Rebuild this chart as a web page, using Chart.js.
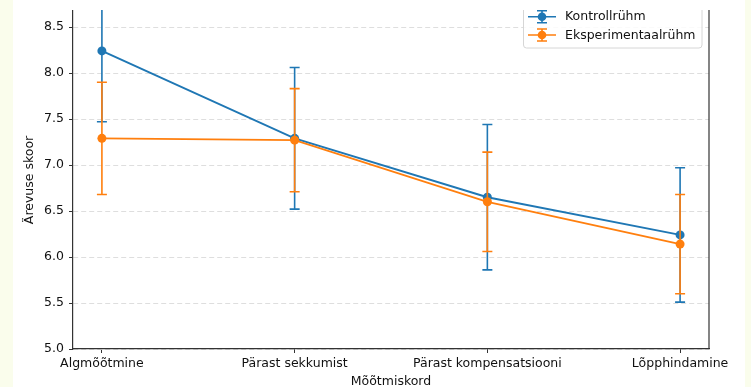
<!DOCTYPE html>
<html>
<head>
<meta charset="utf-8">
<script src="https://cdn.jsdelivr.net/npm/chart.js@4.4.0/dist/chart.umd.min.js"></script>
<style>
  html, body { margin: 0; padding: 0; background: #fafdec; }
  canvas { display: block; }
</style>
</head>
<body>
<canvas id="c" width="751" height="387"></canvas>
<script>
// Measurement points along the x axis
const categories = ['Algmõõtmine', 'Pärast sekkumist', 'Pärast kompensatsiooni', 'Lõpphindamine'];

// Mean anxiety scores and their error half-widths per group
const controlMean = [8.24, 7.29, 6.65, 6.24];
const controlErr  = [0.77, 0.77, 0.79, 0.73];
const expMean     = [7.29, 7.27, 6.60, 6.14];
const expErr      = [0.61, 0.56, 0.54, 0.54];

// Axis tick values
const yTicks = [5.0, 5.5, 6.0, 6.5, 7.0, 7.5, 8.0, 8.5];
const xTicks = [0, 1, 2, 3];

const BLUE = '#1f77b4';
const ORANGE = '#ff7f0e';
const TEXT = '#111111';
const SPINE = '#333333';

Chart.defaults.font.family = "'DejaVu Sans', sans-serif";
Chart.defaults.font.size = 12.5;
Chart.defaults.color = TEXT;

function toPoints(values) {
  return values.map((v, i) => ({ x: i, y: v }));
}

// Page background, error bars, right spine and legend
const figurePlugin = {
  id: 'figurePlugin',
  beforeDraw(chart) {
    const { ctx, width, height } = chart;
    ctx.save();
    ctx.fillStyle = '#fafdec';
    ctx.fillRect(0, 0, width, height);
    ctx.fillStyle = '#ffffff';
    ctx.fillRect(13, 0, 732, height);
    ctx.restore();
  },
  beforeDatasetDraw(chart, args) {
    const ds = chart.data.datasets[args.index];
    const xs = chart.scales.x, ys = chart.scales.y;
    const area = chart.chartArea;
    const ctx = chart.ctx;
    ctx.save();
    ctx.beginPath();
    ctx.rect(area.left, area.top - 1, area.right - area.left, area.bottom - area.top + 1);
    ctx.clip();
    ctx.strokeStyle = ds.borderColor;
    ctx.lineWidth = 1.6;
    const cap = 5;
    ds.data.forEach((p, i) => {
      const e = ds.errors[i];
      const px = xs.getPixelForValue(p.x);
      const top = ys.getPixelForValue(p.y + e);
      const bot = ys.getPixelForValue(p.y - e);
      ctx.beginPath();
      ctx.moveTo(px, top); ctx.lineTo(px, bot);
      ctx.moveTo(px - cap, top); ctx.lineTo(px + cap, top);
      ctx.moveTo(px - cap, bot); ctx.lineTo(px + cap, bot);
      ctx.stroke();
    });
    ctx.restore();
  },
  afterDatasetsDraw(chart) {
    const ctx = chart.ctx;
    const area = chart.chartArea;
    // right spine
    ctx.save();
    ctx.strokeStyle = SPINE;
    ctx.lineWidth = 1.2;
    ctx.beginPath();
    ctx.moveTo(area.right, area.top - 1);
    ctx.lineTo(area.right, area.bottom);
    ctx.stroke();
    ctx.restore();

    // legend, clipped to the top of the plot area
    ctx.save();
    ctx.beginPath();
    ctx.rect(area.left, 10, area.right - area.left, area.bottom - 10);
    ctx.clip();
    const bx = 523.5, by = -2, bw = 178.5, bh = 50, r = 3;
    ctx.beginPath();
    ctx.moveTo(bx + r, by);
    ctx.lineTo(bx + bw - r, by);
    ctx.arcTo(bx + bw, by, bx + bw, by + r, r);
    ctx.lineTo(bx + bw, by + bh - r);
    ctx.arcTo(bx + bw, by + bh, bx + bw - r, by + bh, r);
    ctx.lineTo(bx + r, by + bh);
    ctx.arcTo(bx, by + bh, bx, by + bh - r, r);
    ctx.lineTo(bx, by + r);
    ctx.arcTo(bx, by, bx + r, by, r);
    ctx.closePath();
    ctx.fillStyle = 'rgba(255,255,255,0.85)';
    ctx.fill();
    ctx.strokeStyle = '#d6d6d6';
    ctx.lineWidth = 1;
    ctx.stroke();

    const rows = [16.7, 35];
    chart.data.datasets.forEach((ds, i) => {
      const y = rows[i];
      const cx = 542;
      ctx.strokeStyle = ds.borderColor;
      ctx.lineWidth = 1.6;
      ctx.beginPath();
      ctx.moveTo(528, y); ctx.lineTo(556, y);
      ctx.moveTo(cx, y - 6); ctx.lineTo(cx, y + 6);
      ctx.moveTo(cx - 5, y - 6); ctx.lineTo(cx + 5, y - 6);
      ctx.moveTo(cx - 5, y + 6); ctx.lineTo(cx + 5, y + 6);
      ctx.stroke();
      ctx.fillStyle = ds.borderColor;
      ctx.beginPath();
      ctx.arc(cx, y, 4.3, 0, Math.PI * 2);
      ctx.fill();
      ctx.fillStyle = TEXT;
      ctx.font = "12.5px 'DejaVu Sans', sans-serif";
      ctx.textAlign = 'left';
      ctx.textBaseline = 'middle';
      ctx.fillText(ds.label, 565, y + 0.5);
    });
    ctx.restore();
  }
};

new Chart(document.getElementById('c'), {
  type: 'line',
  data: {
    datasets: [
      {
        label: 'Kontrollrühm',
        data: toPoints(controlMean),
        errors: controlErr,
        borderColor: BLUE,
        backgroundColor: BLUE,
        borderWidth: 1.9,
        pointRadius: 4.5,
        pointBorderWidth: 0,
        pointHoverRadius: 4.5,
        order: 1
      },
      {
        label: 'Eksperimentaalrühm',
        data: toPoints(expMean),
        errors: expErr,
        borderColor: ORANGE,
        backgroundColor: ORANGE,
        borderWidth: 1.9,
        pointRadius: 4.5,
        pointBorderWidth: 0,
        pointHoverRadius: 4.5,
        order: 0
      }
    ]
  },
  options: {
    responsive: false,
    animation: false,
    devicePixelRatio: 1,
    layout: { padding: { left: 0, top: 11, right: 42, bottom: 0 } },
    plugins: {
      legend: { display: false },
      tooltip: { enabled: false }
    },
    scales: {
      x: {
        type: 'linear',
        min: -0.15,
        max: 3.15,
        afterFit(scale) {
          scale.height = 38;
          scale.paddingLeft = 0;
          scale.paddingRight = 0;
        },
        afterBuildTicks(scale) { scale.ticks = xTicks.map(v => ({ value: v })); },
        ticks: {
          padding: 3,
          color: TEXT,
          maxRotation: 0,
          autoSkip: false,
          callback: (v) => categories[v]
        },
        grid: {
          drawOnChartArea: false,
          drawTicks: true,
          tickLength: 4,
          tickColor: SPINE,
          tickWidth: 1
        },
        border: { display: true, color: SPINE, width: 1.2 },
        title: {
          display: true,
          text: 'Mõõtmiskord',
          color: TEXT,
          font: { size: 12.5 },
          padding: { top: 0, bottom: -2 }
        }
      },
      y: {
        type: 'linear',
        min: 5.0,
        max: 8.674,
        afterFit(scale) {
          scale.width = 73;
          scale.paddingTop = 0;
          scale.paddingBottom = 0;
        },
        afterBuildTicks(scale) { scale.ticks = yTicks.map(v => ({ value: v })); },
        ticks: {
          padding: 5,
          color: TEXT,
          callback: (v) => Number(v).toFixed(1)
        },
        grid: {
          color: '#dedede',
          lineWidth: 1,
          drawTicks: true,
          tickLength: 4,
          tickColor: SPINE,
          tickWidth: 1,
          tickBorderDash: []
        },
        border: { display: true, color: SPINE, width: 1.2, dash: [5, 3] },
        title: {
          display: true,
          text: 'Ärevuse skoor',
          color: TEXT,
          font: { size: 12.5 },
          padding: { top: 22.5, bottom: 0 }
        }
      }
    }
  },
  plugins: [figurePlugin]
});
</script>
</body>
</html>
